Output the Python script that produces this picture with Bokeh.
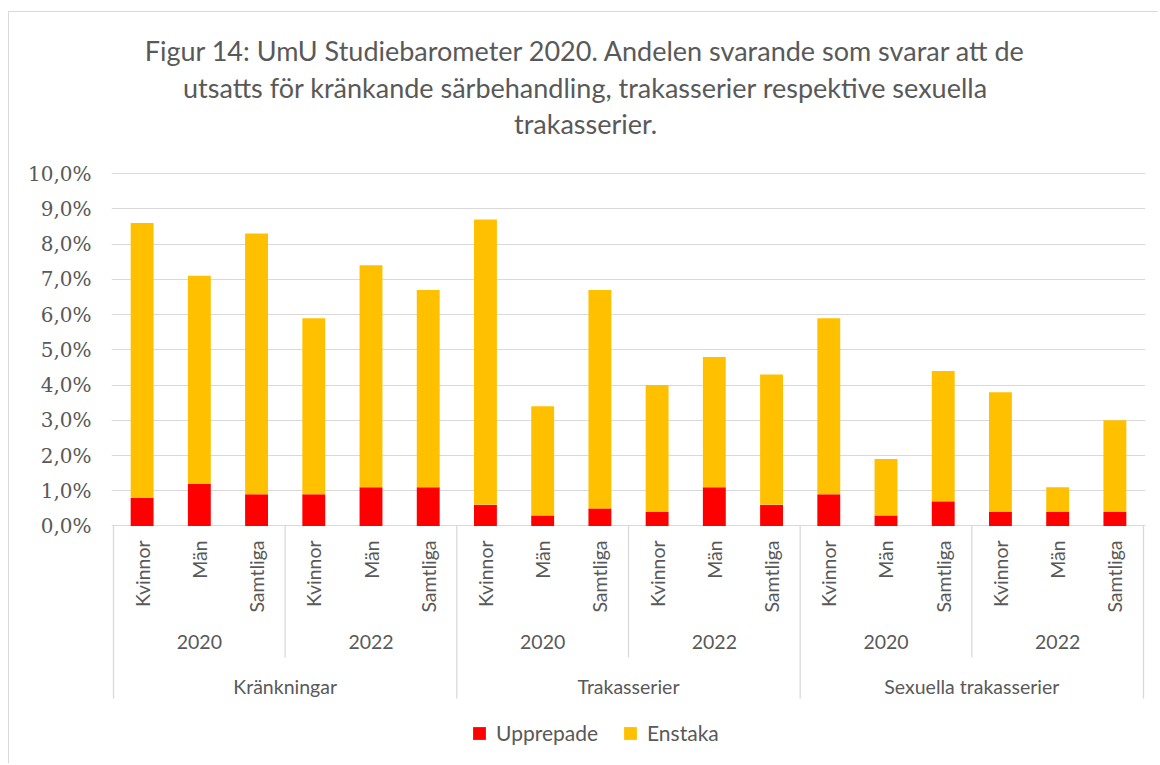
import math
from bokeh.plotting import figure
from bokeh.models import (FactorRange, Range1d, FixedTicker, ColumnDataSource,
                          Legend, LegendItem)
from bokeh.core.properties import value
from bokeh.embed import file_html
from bokeh.resources import INLINE

# ---------------- data ----------------
title_lines = [
    "Figur 14: UmU Studiebarometer 2020. Andelen svarande som svarar att de",
    "utsatts för kränkande särbehandling, trakasserier respektive sexuella",
    "trakasserier.",
]
categories = ["Kränkningar", "Trakasserier", "Sexuella trakasserier"]
years = ["2020", "2022"]
groups = ["Kvinnor", "Män", "Samtliga"]
series_names = ["Upprepade", "Enstaka"]
series_colors = ["#FF0000", "#FFC000"]
upprepade = [0.8, 1.2, 0.9, 0.9, 1.1, 1.1,
             0.6, 0.3, 0.5, 0.4, 1.1, 0.6,
             0.9, 0.3, 0.7, 0.4, 0.4, 0.4]
enstaka = [7.8, 5.9, 7.4, 5.0, 6.3, 5.6,
           8.1, 3.1, 6.2, 3.6, 3.7, 3.7,
           5.0, 1.6, 3.7, 3.4, 0.7, 2.6]
y_ticks = [0, 1, 2, 3, 4, 5, 6, 7, 8, 9, 10]
y_tick_labels = ["0,0%", "1,0%", "2,0%", "3,0%", "4,0%", "5,0%",
                 "6,0%", "7,0%", "8,0%", "9,0%", "10,0%"]

# ---------------- styling ----------------
TXT = "#595959"
GRID = "#d9d9d9"
SANS = "Lato"

factors = [(c, y, g) for c in categories for y in years for g in groups]
source = ColumnDataSource(dict(x=factors, Upprepade=upprepade, Enstaka=enstaka))

x_range = FactorRange(*factors, factor_padding=0, subgroup_padding=0,
                      group_padding=0, range_padding=0.035,
                      range_padding_units="absolute")

p = figure(width=1150, height=752, x_range=x_range,
           y_range=Range1d(-6.770, 14.576),
           x_axis_location=None, output_backend="svg", toolbar_location=None,
           min_border_left=102, min_border_right=14, min_border_top=0,
           min_border_bottom=0,
           styles={"margin-top": "11px", "margin-left": "8px",
                   "border-top": "1px solid #d9d9d9",
                   "border-left": "1px solid #d9d9d9"})
p.outline_line_color = None
p.background_fill_color = "white"
p.border_fill_color = "white"

# y axis
p.yaxis.ticker = FixedTicker(ticks=y_ticks)
p.yaxis.major_label_overrides = dict(zip(y_ticks, y_tick_labels))
p.yaxis.axis_line_color = None
p.yaxis.major_tick_line_color = None
p.yaxis.minor_tick_line_color = None
p.yaxis.major_tick_out = 0
p.yaxis.major_tick_in = 0
p.yaxis.major_label_standoff = 20
p.yaxis.major_label_text_font = "DejaVu Serif"
p.yaxis.major_label_text_font_size = "20px"
p.yaxis.major_label_text_color = TXT

p.xgrid.visible = False
p.ygrid.ticker = FixedTicker(ticks=y_ticks)
p.ygrid.grid_line_color = GRID
p.ygrid.grid_line_width = 1

# bars
renderers = p.vbar_stack(series_names, x="x", width=0.4, source=source,
                         color=series_colors, line_color=None)

# category axis separators
grp_x = [(c, years[0], groups[0], -0.5) for c in categories] + \
        [(categories[-1], years[-1], groups[-1], 0.5)]
p.segment(x0=grp_x, y0=[0] * len(grp_x), x1=grp_x, y1=[-4.896] * len(grp_x),
          line_color=GRID, line_width=1.3)
sub_x = [(c, years[1], groups[0], -0.5) for c in categories]
p.segment(x0=sub_x, y0=[0] * len(sub_x), x1=sub_x, y1=[-3.733] * len(sub_x),
          line_color=GRID, line_width=1.3)

# category labels
p.text(x=factors, y=[-0.41] * len(factors), text=[f[2] for f in factors],
       angle=math.pi / 2, text_align="right", text_baseline="middle",
       text_font=value(SANS), text_font_size="19.5px", text_color=TXT)
yr_x = [(c, y) for c in categories for y in years]
p.text(x=yr_x, y=[-3.28] * len(yr_x), text=[t[1] for t in yr_x],
       text_align="center", text_baseline="middle",
       text_font=value(SANS), text_font_size="19.5px", text_color=TXT)
p.text(x=categories, y=[-4.556] * len(categories), text=categories,
       text_align="center", text_baseline="middle",
       text_font=value(SANS), text_font_size="19.5px", text_color=TXT)

# title (centred over the chart area)
title_x = (categories[1], years[0], groups[2], -0.25)
p.text(x=[title_x] * 3, y=[13.50, 12.45, 11.43], text=title_lines,
       text_align="center", text_baseline="middle",
       text_font=value(SANS), text_font_size="27px", text_color=TXT)

# legend
legend = Legend(items=[LegendItem(label=n, renderers=[r])
                       for n, r in zip(series_names, renderers)],
                orientation="horizontal", location=(360, 19),
                padding=0, margin=0, spacing=24, label_standoff=9,
                glyph_width=16, glyph_height=16, label_height=16,
                label_text_font=SANS, label_text_font_size="21px",
                label_text_color=TXT, border_line_color=None,
                background_fill_alpha=0)
p.add_layout(legend)

open("out.html", "w").write(file_html(p, INLINE))
